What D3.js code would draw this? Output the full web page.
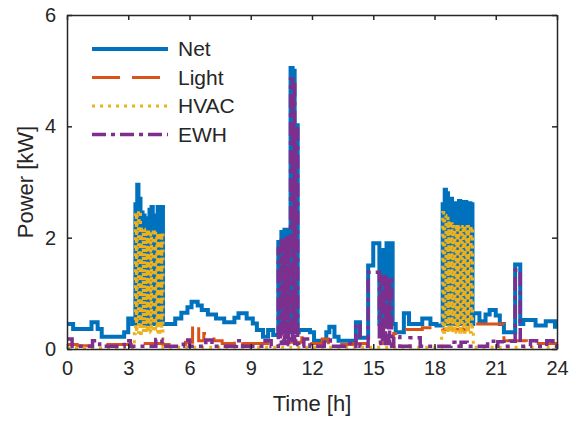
<!DOCTYPE html>
<html>
<head>
<meta charset="utf-8">
<script src="https://cdn.jsdelivr.net/npm/d3@7"></script>
<style>
  body { margin: 0; background: #fff; }
  text { font-family: "Liberation Sans", Arial, sans-serif; fill: #262626; }
</style>
</head>
<body>
<div id="chart"></div>
<script>
// Chart data: step series as [hour, kW] breakpoints
const seriesNames = ["Net", "Light", "HVAC", "EWH"];
const xTickValues = [0, 3, 6, 9, 12, 15, 18, 21, 24];
const yTickValues = [0, 2, 4, 6];

const netData = [
  [0, 0.45], [0.3, 0.36], [1.2, 0.48], [1.5, 0.36], [1.7, 0.22], [2.8, 0.3], [3.0, 0.55], [3.2, 0.45],
  [3.35, 2.6], [3.40, 0.45], [3.44, 2.95], [3.50, 0.45], [3.54, 2.7], [3.60, 0.45], [3.64, 2.45], [3.70, 0.45],
  [3.74, 2.4], [3.80, 0.45], [3.84, 2.3], [3.90, 0.45], [3.94, 2.35], [4.00, 0.45], [4.04, 2.5], [4.10, 0.45],
  [4.14, 2.55], [4.20, 0.45], [4.24, 2.4], [4.30, 0.45], [4.34, 2.4], [4.40, 0.45], [4.44, 2.55], [4.50, 0.45],
  [4.54, 2.55], [4.60, 0.45], [4.64, 2.55], [4.70, 0.45],
  [5.3, 0.55], [5.6, 0.65], [5.9, 0.75], [6.1, 0.85], [6.4, 0.78], [6.6, 0.7], [6.9, 0.62], [7.3, 0.55],
  [7.7, 0.48], [8.2, 0.56], [8.4, 0.64], [8.8, 0.55], [9.1, 0.46], [9.3, 0.34], [9.6, 0.22], [9.85, 0.34], [10.1, 0.25],
  [10.35, 1.92], [10.45, 0.3], [10.5, 2.1], [10.6, 0.3], [10.65, 2.14], [10.75, 0.3], [10.8, 2.14], [10.85, 0.3],
  [10.95, 5.05], [11.05, 0.3], [11.1, 5.0], [11.15, 0.3], [11.2, 4.02], [11.3, 0.3], [11.35, 0.34],
  [11.9, 0.3], [12.1, 0.15], [12.7, 0.3], [12.85, 0.4], [13.1, 0.22], [13.3, 0.15], [14.15, 0.48], [14.35, 0.2],
  [14.75, 1.5], [15.0, 1.9], [15.3, 0.45], [15.35, 1.75], [15.45, 0.45], [15.5, 1.78], [15.6, 0.45],
  [15.65, 1.9], [15.75, 0.45], [15.8, 1.9], [15.95, 0.45], [16.1, 0.3], [16.5, 0.64], [16.75, 0.45],
  [17.4, 0.55], [17.8, 0.45], [18.1, 0.42],
  [18.40, 2.6], [18.45, 0.45], [18.50, 2.86], [18.56, 0.45], [18.60, 2.8], [18.66, 0.45], [18.70, 2.68], [18.76, 0.45],
  [18.80, 2.7], [18.86, 0.45], [18.90, 2.62], [18.96, 0.45], [19.00, 2.6], [19.06, 0.45], [19.10, 2.62], [19.16, 0.45],
  [19.20, 2.66], [19.26, 0.45], [19.30, 2.64], [19.36, 0.45], [19.40, 2.62], [19.46, 0.45], [19.50, 2.64], [19.56, 0.45],
  [19.60, 2.6], [19.66, 0.45], [19.70, 2.62], [19.76, 0.45], [19.80, 2.6], [19.86, 0.45], [19.90, 0.64],
  [20.2, 0.5], [20.5, 0.62], [20.7, 0.7], [21.0, 0.6], [21.2, 0.45], [21.4, 0.3], [21.95, 1.52], [22.2, 0.45],
  [22.35, 0.52], [22.95, 0.42], [23.45, 0.5], [23.9, 0.4], [24, 0.4]
];

const lightData = [
  [0, 0.08], [0.5, 0.06], [2.0, 0.08], [3.3, 0.1], [4.7, 0.08], [5.8, 0.12], [6.15, 0.45], [6.45, 0.15],
  [6.7, 0.28], [7.2, 0.15], [7.6, 0.1], [8.2, 0.16], [8.6, 0.1], [10.0, 0.12], [11.5, 0.2], [11.8, 0.1],
  [12.5, 0.18], [12.8, 0.08], [14.0, 0.1], [16.0, 0.28], [16.4, 0.35], [17.4, 0.38], [18.4, 0.35],
  [19.9, 0.45], [21.4, 0.15], [22.5, 0.1], [24, 0.1]
];

const hvacData = [
  [0, 0.02], [3.3, 0.28],
  [3.35, 2.45], [3.40, 0.3], [3.44, 2.48], [3.50, 0.3], [3.54, 2.42], [3.60, 0.28], [3.64, 2.2], [3.70, 0.3],
  [3.74, 2.15], [3.80, 0.3], [3.84, 2.12], [3.90, 0.3], [3.94, 2.1], [4.00, 0.3], [4.04, 2.12], [4.10, 0.3],
  [4.14, 2.1], [4.20, 0.3], [4.24, 2.08], [4.30, 0.3], [4.34, 2.1], [4.40, 0.3], [4.44, 2.08], [4.50, 0.3],
  [4.54, 2.1], [4.60, 0.3], [4.64, 2.08], [4.70, 0.03],
  [18.35, 0.3],
  [18.40, 2.45], [18.45, 0.3], [18.50, 2.4], [18.56, 0.3], [18.60, 2.35], [18.66, 0.3], [18.70, 2.3], [18.76, 0.3],
  [18.80, 2.25], [18.86, 0.3], [18.90, 2.2], [18.96, 0.3], [19.00, 2.2], [19.06, 0.3], [19.10, 2.2], [19.16, 0.3],
  [19.20, 2.2], [19.26, 0.3], [19.30, 2.2], [19.36, 0.3], [19.40, 2.2], [19.46, 0.3], [19.50, 2.2], [19.56, 0.3],
  [19.60, 2.2], [19.66, 0.3], [19.70, 2.2], [19.76, 0.3], [19.80, 2.2], [19.86, 0.3], [19.90, 0.03], [24, 0.03]
];

const ewhData = [
  [0, 0.18], [0.25, 0.05], [1.25, 0.15], [1.6, 0.05], [2.8, 0.15], [3.1, 0.05], [4.35, 0.17], [4.65, 0.05],
  [5.7, 0.16], [6.0, 0.05], [6.8, 0.16], [7.1, 0.05], [8.3, 0.15], [8.6, 0.05], [9.7, 0.15], [10.0, 0.05],
  [10.35, 1.8], [10.45, 0.1], [10.5, 1.95], [10.6, 0.1], [10.65, 2.0], [10.75, 0.1], [10.8, 2.0], [10.85, 0.08],
  [10.95, 4.85], [11.05, 0.1], [11.1, 4.8], [11.15, 0.1], [11.2, 3.95], [11.3, 0.08], [11.35, 0.05],
  [11.6, 0.18], [11.9, 0.05], [12.6, 0.16], [12.9, 0.05], [13.6, 0.1], [13.9, 0.05], [14.15, 0.45], [14.35, 0.05],
  [14.75, 1.38], [15.3, 0.1], [15.35, 1.3], [15.45, 0.1], [15.5, 1.3], [15.6, 0.1], [15.65, 1.3], [15.75, 0.1],
  [15.8, 1.25], [15.9, 0.05], [16.0, 0.22], [16.3, 0.05], [16.8, 0.2], [17.3, 0.05], [18.8, 0.12], [19.0, 0.05],
  [19.3, 0.12], [19.6, 0.05], [20.6, 0.14], [20.9, 0.05], [21.1, 0.13], [21.4, 0.05], [21.7, 0.14],
  [21.95, 1.42], [22.2, 0.05], [22.7, 0.15], [23.0, 0.05], [23.5, 0.15], [23.8, 0.05], [24, 0.05]
];

const svgWidth = 577;
const svgHeight = 422;
const margin = { top: 15, right: 20, bottom: 73, left: 67 };
const width = svgWidth - margin.left - margin.right;
const height = svgHeight - margin.top - margin.bottom;

const svg = d3.select("#chart")
  .append("svg")
  .attr("width", svgWidth)
  .attr("height", svgHeight);

const chartGroup = svg.append("g")
  .attr("transform", `translate(${margin.left}, ${margin.top})`);

const xScale = d3.scaleLinear().domain([0, 24]).range([0, width]);
const yScale = d3.scaleLinear().domain([0, 6]).range([height, 0]);

// line styles follow MATLAB default colour order
const styles = [
  { data: netData,   color: "#0072BD", width: 4, dash: null },
  { data: lightData, color: "#D95319", width: 3, dash: "28,12" },
  { data: hvacData,  color: "#EDB120", width: 3, dash: "3,5" },
  { data: ewhData,   color: "#7E2F8E", width: 3.5, dash: "14,5,4,5" }
];

svg.append("clipPath").attr("id", "plotClip")
  .append("rect").attr("width", width).attr("height", height + 3).attr("y", -3);

const line = d3.line()
  .x(d => xScale(d[0]))
  .y(d => yScale(d[1]))
  .curve(d3.curveStepAfter);

const lineGroup = chartGroup.append("g").attr("clip-path", "url(#plotClip)");
styles.forEach(s => {
  lineGroup.append("path")
    .datum(s.data)
    .attr("d", line)
    .attr("fill", "none")
    .attr("stroke", s.color)
    .attr("stroke-width", s.width)
    .attr("stroke-dasharray", s.dash)
    .attr("stroke-linejoin", "miter");
});

// Axes with inward ticks (box on)
const axisColor = "#262626";
const intFormat = d3.format("d");
const bottomAxis = d3.axisBottom(xScale).tickValues(xTickValues).tickFormat(intFormat)
  .tickSize(-5).tickSizeOuter(0).tickPadding(12);
const leftAxis = d3.axisLeft(yScale).tickValues(yTickValues).tickFormat(intFormat)
  .tickSize(-5).tickSizeOuter(0).tickPadding(11);
const topAxis = d3.axisTop(xScale).tickValues(xTickValues).tickSize(-5).tickSizeOuter(0).tickFormat("");
const rightAxis = d3.axisRight(yScale).tickValues(yTickValues).tickSize(-5).tickSizeOuter(0).tickFormat("");

const axes = [
  chartGroup.append("g").attr("transform", `translate(0, ${height})`).call(bottomAxis),
  chartGroup.append("g").call(leftAxis),
  chartGroup.append("g").call(topAxis),
  chartGroup.append("g").attr("transform", `translate(${width}, 0)`).call(rightAxis)
];
axes.forEach(a => {
  a.selectAll("path, line").attr("stroke", axisColor).attr("stroke-width", 1.5);
  a.selectAll("text").attr("font-size", 20).attr("fill", axisColor)
    .style("font-family", '"Liberation Sans", Arial, sans-serif');
});

// Axis labels
chartGroup.append("text")
  .attr("x", width / 2)
  .attr("y", height + 62)
  .attr("text-anchor", "middle")
  .attr("font-size", 22)
  .text("Time [h]");

chartGroup.append("text")
  .attr("transform", "rotate(-90)")
  .attr("x", -height / 2)
  .attr("y", -34)
  .attr("text-anchor", "middle")
  .attr("font-size", 22)
  .text("Power [kW]");

// Legend (no box)
const legend = chartGroup.append("g").attr("transform", "translate(25, 34)");
styles.forEach((s, i) => {
  const row = legend.append("g").attr("transform", `translate(0, ${i * 28.5})`);
  row.append("line")
    .attr("x1", 0).attr("x2", 76)
    .attr("stroke", s.color)
    .attr("stroke-width", s.width)
    .attr("stroke-dasharray", s.dash);
  row.append("text")
    .attr("x", 86)
    .attr("dy", "0.35em")
    .attr("font-size", 21)
    .text(seriesNames[i]);
});
</script>
</body>
</html>
